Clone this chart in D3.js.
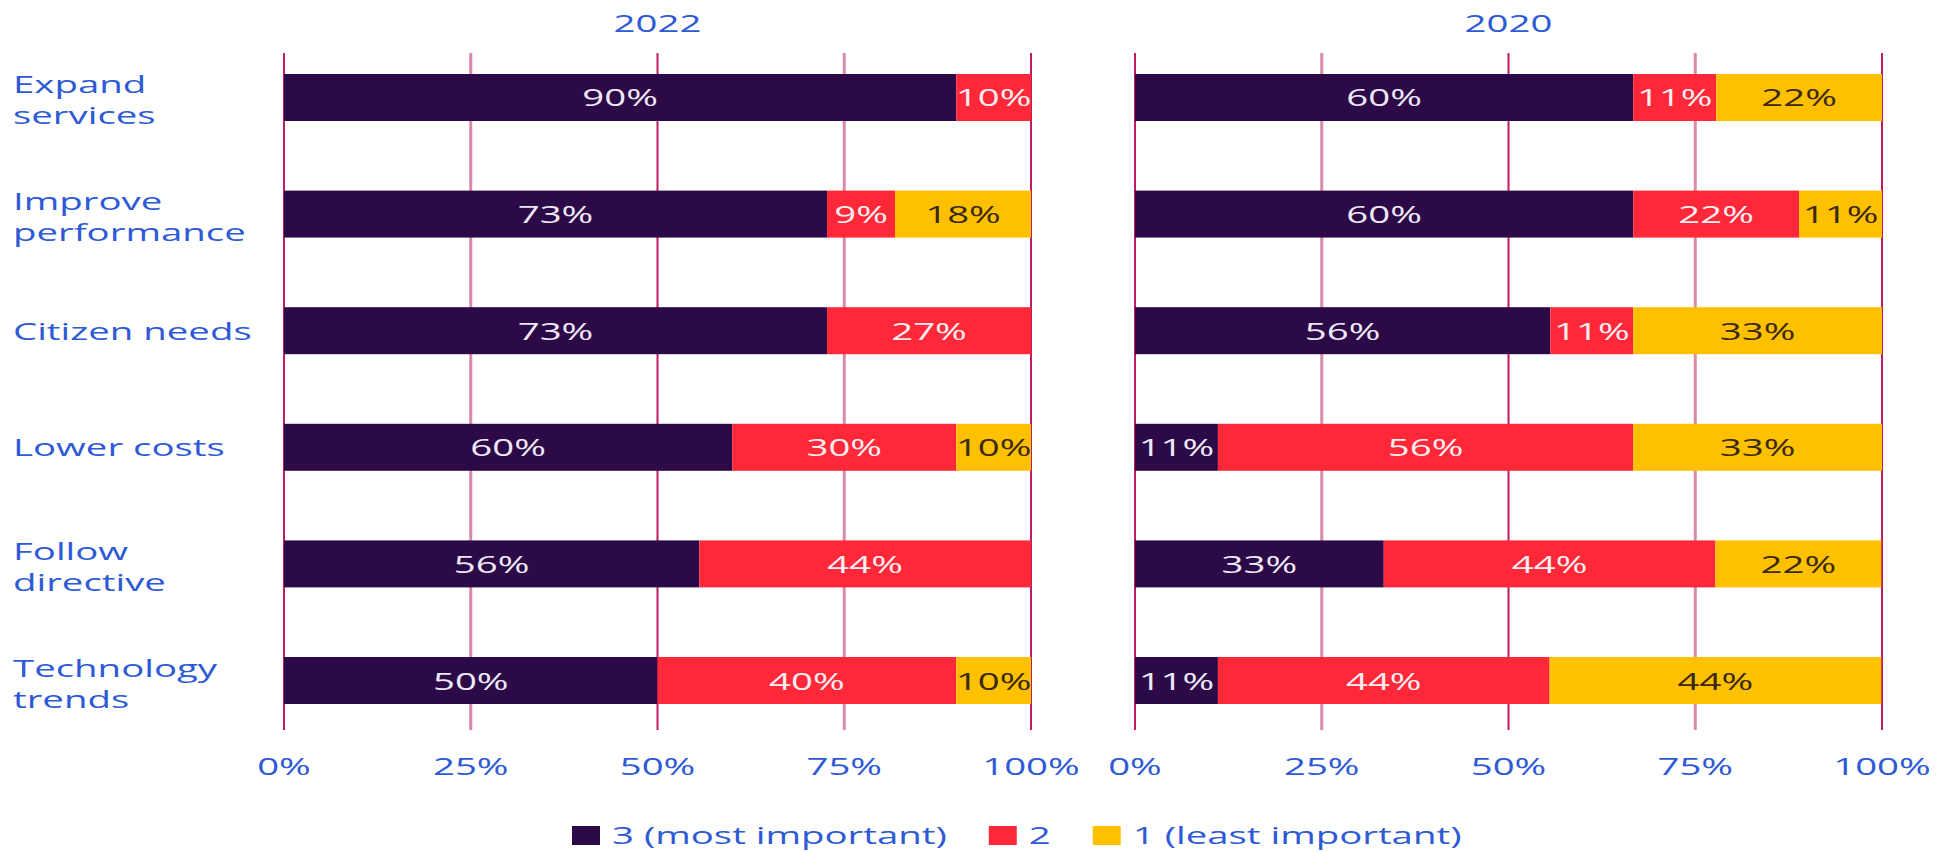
<!DOCTYPE html>
<html>
<head>
<meta charset="utf-8">
<script src="https://cdn.jsdelivr.net/npm/d3@7.9.0/dist/d3.min.js"></script>
<style>
  html, body { margin: 0; padding: 0; background: #fff; }
  svg { display: block; }
  text { font-family: "Open Sans", sans-serif; font-size: 24px; }
</style>
</head>
<body>
<div id="chart"></div>
<script>
// categories (top to bottom)
const categories = [
  ['Expand', 'services'],
  ['Improve', 'performance'],
  ['Citizen needs'],
  ['Lower costs'],
  ['Follow', 'directive'],
  ['Technology', 'trends'],
];

const seriesNames = ['3 (most important)', '2', '1 (least important)'];

// bar lengths, per category: [3, 2, 1]
const values2022 = [
  [90, 10, 0],
  [72.7, 9.1, 18.2],
  [72.7, 27.3, 0],
  [60, 30, 10],
  [55.6, 44.4, 0],
  [50, 40, 10],
];
const labels2022 = [
  ['90%', '10%', ''],
  ['73%', '9%', '18%'],
  ['73%', '27%', ''],
  ['60%', '30%', '10%'],
  ['56%', '44%', ''],
  ['50%', '40%', '10%'],
];

const values2020 = [
  [66.7, 11.1, 22.2],
  [66.7, 22.2, 11.1],
  [55.6, 11.1, 33.3],
  [11.1, 55.6, 33.3],
  [33.3, 44.4, 22.2],
  [11.1, 44.4, 44.4],
];
const labels2020 = [
  ['60%', '11%', '22%'],
  ['60%', '22%', '11%'],
  ['56%', '11%', '33%'],
  ['11%', '56%', '33%'],
  ['33%', '44%', '22%'],
  ['11%', '44%', '44%'],
];

const tickValues = [0, 25, 50, 75, 100];

const colors = ['#2c0a48', '#ff2838', '#ffc000'];
const labelColors = ['#eee8f6', '#fbeef2', '#3a2a12'];
const textBlue = '#2e5ad6';
const sx = 1.6; // the source text is stretched horizontally

const width = 1936, height = 852;

const svg = d3.select('#chart')
  .append('svg')
  .attr('width', width)
  .attr('height', height);

const y = d3.scaleBand()
  .domain(d3.range(categories.length))
  .range([74, 704])
  .paddingInner(0.597)
  .paddingOuter(0);

const panels = [
  { title: '2022', values: values2022, labels: labels2022, x0: 284, x1: 1031 },
  { title: '2020', values: values2020, labels: labels2020, x0: 1135, x1: 1882 },
];

function stretched(sel, x, yy) {
  return sel.attr('transform', `translate(${x},${yy}) scale(${sx},1)`);
}

panels.forEach(p => {
  const x = d3.scaleLinear().domain([0, 100]).range([p.x0, p.x1]);
  const g = svg.append('g');

  // gridlines
  g.append('g')
    .selectAll('line')
    .data(tickValues)
    .join('line')
    .attr('x1', d => x(d))
    .attr('x2', d => x(d))
    .attr('y1', 53)
    .attr('y2', 730)
    .attr('stroke', d => (d % 50 === 0 ? '#bf1b5e' : '#d98aab'))
    .attr('stroke-width', d => (d % 50 === 0 ? 2 : 3));

  // tick labels
  g.append('g')
    .selectAll('text')
    .data(tickValues)
    .join('text')
    .each(function (d) { stretched(d3.select(this), x(d), 775); })
    .attr('text-anchor', 'middle')
    .attr('fill', textBlue)
    .text(d => d + '%');

  // title
  stretched(g.append('text'), (p.x0 + p.x1) / 2, 32)
    .attr('text-anchor', 'middle')
    .attr('fill', textBlue)
    .text(p.title);

  // stacked bars
  p.values.forEach((row, i) => {
    let acc = 0;
    const segs = row.map((v, k) => {
      const s = { k, start: acc, end: acc + v, label: p.labels[i][k] };
      acc += v;
      return s;
    }).filter(s => s.end > s.start);

    const rg = g.append('g');
    rg.selectAll('rect')
      .data(segs)
      .join('rect')
      .attr('x', s => x(s.start))
      .attr('width', s => x(s.end) - x(s.start))
      .attr('y', y(i))
      .attr('height', y.bandwidth())
      .attr('fill', s => colors[s.k]);

    rg.selectAll('text')
      .data(segs)
      .join('text')
      .each(function (s) {
        stretched(d3.select(this), (x(s.start) + x(s.end)) / 2, y(i) + y.bandwidth() / 2 + 9);
      })
      .attr('text-anchor', 'middle')
      .attr('fill', s => labelColors[s.k])
      .text(s => s.label);
  });
});

// category labels
categories.forEach((lines, i) => {
  const c = y(i) + y.bandwidth() / 2;
  const base = lines.length === 1 ? c + 9 : c - 4;
  lines.forEach((ln, j) => {
    stretched(svg.append('text'), 13, base + j * 31)
      .attr('fill', textBlue)
      .text(ln);
  });
});

// legend
const legend = svg.append('g');
let lx = 572;
seriesNames.forEach((name, k) => {
  legend.append('rect')
    .attr('x', lx)
    .attr('y', 826)
    .attr('width', 28)
    .attr('height', 19)
    .attr('fill', colors[k]);
  const t = stretched(legend.append('text'), lx + 40, 844)
    .attr('fill', textBlue)
    .text(name);
  lx += 40 + t.node().getComputedTextLength() * sx + 42;
});
</script>
</body>
</html>
